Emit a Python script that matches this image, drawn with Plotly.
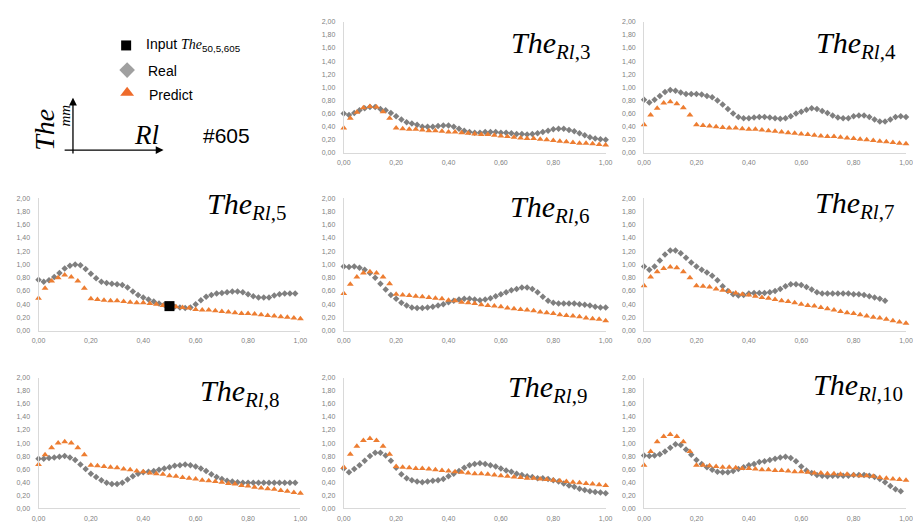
import plotly.graph_objects as go

# x positions of the two series (Rl, normalised)
pred_x = [0.000, 0.025, 0.050, 0.075, 0.100, 0.125, 0.150, 0.175, 0.200, 0.225,
          0.250, 0.275, 0.300, 0.325, 0.350, 0.375, 0.400, 0.425, 0.450, 0.475,
          0.500, 0.525, 0.550, 0.575, 0.600, 0.625, 0.650, 0.675, 0.700, 0.725,
          0.750, 0.775, 0.800, 0.825, 0.850, 0.875, 0.900, 0.925, 0.950, 0.975, 1.000]
real_x = [0.00, 0.02, 0.04, 0.06, 0.08, 0.10, 0.12, 0.14, 0.16, 0.18,
          0.20, 0.22, 0.24, 0.26, 0.28, 0.30, 0.32, 0.34, 0.36, 0.38,
          0.40, 0.42, 0.44, 0.46, 0.48, 0.50, 0.52, 0.54, 0.56, 0.58,
          0.60, 0.62, 0.64, 0.66, 0.68, 0.70, 0.72, 0.74, 0.76, 0.78,
          0.80, 0.82, 0.84, 0.86, 0.88, 0.90, 0.92, 0.94, 0.96, 0.98, 1.00]

# Real (measured) thickness, mm
real_rl3 = [0.60, 0.58, 0.61, 0.65, 0.68, 0.70, 0.70, 0.67, 0.65, 0.61,
            0.56, 0.51, 0.47, 0.45, 0.43, 0.40, 0.40, 0.40, 0.41, 0.42,
            0.42, 0.40, 0.37, 0.34, 0.32, 0.31, 0.31, 0.32, 0.32, 0.32,
            0.31, 0.31, 0.30, 0.29, 0.29, 0.28, 0.29, 0.30, 0.32, 0.34,
            0.36, 0.37, 0.37, 0.35, 0.33, 0.30, 0.27, 0.24, 0.22, 0.21, 0.20]
real_rl4 = [0.81, 0.77, 0.81, 0.87, 0.93, 0.96, 0.95, 0.92, 0.90, 0.90,
            0.90, 0.89, 0.87, 0.85, 0.80, 0.74, 0.67, 0.60, 0.55, 0.53,
            0.53, 0.54, 0.55, 0.55, 0.54, 0.53, 0.52, 0.53, 0.56, 0.60,
            0.63, 0.66, 0.68, 0.67, 0.64, 0.61, 0.57, 0.54, 0.53, 0.53,
            0.56, 0.57, 0.57, 0.55, 0.51, 0.48, 0.48, 0.51, 0.55, 0.56, 0.55]
real_rl5 = [0.77, 0.74, 0.76, 0.81, 0.87, 0.94, 0.98, 1.00, 0.99, 0.93,
            0.86, 0.79, 0.74, 0.72, 0.71, 0.70, 0.69, 0.65, 0.59, 0.54,
            0.50, 0.47, 0.44, 0.41, 0.39, 0.37, 0.36, 0.35, 0.34, 0.35,
            0.40, 0.46, 0.51, 0.54, 0.56, 0.57, 0.58, 0.59, 0.59, 0.58,
            0.55, 0.52, 0.50, 0.50, 0.50, 0.53, 0.55, 0.56, 0.56, 0.56]
real_rl6 = [0.97, 0.96, 0.97, 0.95, 0.92, 0.87, 0.80, 0.71, 0.62, 0.54,
            0.48, 0.42, 0.38, 0.35, 0.34, 0.34, 0.35, 0.36, 0.38, 0.40,
            0.43, 0.45, 0.47, 0.48, 0.48, 0.47, 0.46, 0.47, 0.49, 0.52,
            0.55, 0.58, 0.61, 0.63, 0.65, 0.65, 0.63, 0.58, 0.51, 0.45,
            0.42, 0.41, 0.41, 0.41, 0.41, 0.40, 0.39, 0.38, 0.36, 0.35, 0.35]
real_rl7 = [0.97, 0.92, 0.97, 1.06, 1.15, 1.21, 1.21, 1.17, 1.10, 1.03,
            0.97, 0.92, 0.88, 0.83, 0.76, 0.67, 0.60, 0.55, 0.53, 0.54,
            0.56, 0.57, 0.57, 0.57, 0.58, 0.60, 0.63, 0.67, 0.70, 0.70,
            0.69, 0.66, 0.62, 0.58, 0.56, 0.56, 0.56, 0.56, 0.56, 0.56,
            0.55, 0.55, 0.54, 0.52, 0.50, 0.48, 0.45]
real_rl8 = [0.76, 0.76, 0.77, 0.78, 0.79, 0.80, 0.78, 0.74, 0.67, 0.60,
            0.53, 0.48, 0.43, 0.39, 0.37, 0.37, 0.39, 0.44, 0.49, 0.53,
            0.55, 0.56, 0.57, 0.59, 0.61, 0.63, 0.65, 0.66, 0.67, 0.66,
            0.64, 0.61, 0.57, 0.52, 0.48, 0.45, 0.42, 0.41, 0.40, 0.39,
            0.39, 0.39, 0.39, 0.39, 0.39, 0.39, 0.39, 0.39, 0.39, 0.39]
real_rl9 = [0.61, 0.55, 0.60, 0.66, 0.73, 0.80, 0.85, 0.85, 0.81, 0.73,
            0.62, 0.52, 0.46, 0.43, 0.41, 0.40, 0.41, 0.42, 0.43, 0.45,
            0.49, 0.53, 0.57, 0.62, 0.66, 0.68, 0.69, 0.68, 0.66, 0.64,
            0.61, 0.58, 0.56, 0.53, 0.51, 0.49, 0.48, 0.46, 0.46, 0.45,
            0.43, 0.41, 0.38, 0.35, 0.33, 0.30, 0.28, 0.26, 0.25, 0.24, 0.23]
real_rl10 = [0.81, 0.80, 0.81, 0.83, 0.87, 0.93, 0.98, 0.97, 0.90, 0.82,
             0.74, 0.68, 0.63, 0.59, 0.56, 0.55, 0.55, 0.57, 0.60, 0.63,
             0.66, 0.68, 0.71, 0.72, 0.74, 0.76, 0.78, 0.79, 0.77, 0.72,
             0.64, 0.58, 0.54, 0.51, 0.50, 0.49, 0.50, 0.50, 0.50, 0.50,
             0.51, 0.51, 0.51, 0.50, 0.48, 0.45, 0.40, 0.34, 0.29, 0.26]

# Predicted thickness, mm
pred_rl3 = [0.38, 0.53, 0.62, 0.69, 0.71, 0.70, 0.63, 0.53, 0.38, 0.37,
            0.36, 0.36, 0.35, 0.34, 0.34, 0.33, 0.32, 0.32, 0.31, 0.30,
            0.29, 0.28, 0.28, 0.27, 0.26, 0.25, 0.24, 0.23, 0.22, 0.22,
            0.21, 0.20, 0.19, 0.18, 0.17, 0.16, 0.15, 0.15, 0.14, 0.13, 0.12]
pred_rl4 = [0.43, 0.58, 0.68, 0.76, 0.78, 0.75, 0.69, 0.58, 0.43, 0.42,
            0.41, 0.40, 0.39, 0.38, 0.38, 0.37, 0.36, 0.36, 0.35, 0.34,
            0.33, 0.32, 0.31, 0.30, 0.29, 0.28, 0.27, 0.26, 0.25, 0.25,
            0.24, 0.23, 0.22, 0.21, 0.20, 0.19, 0.18, 0.17, 0.16, 0.15, 0.14]
pred_rl5 = [0.49, 0.64, 0.75, 0.80, 0.84, 0.81, 0.75, 0.64, 0.48, 0.47,
            0.46, 0.45, 0.45, 0.44, 0.43, 0.42, 0.42, 0.41, 0.40, 0.38,
            0.37, 0.36, 0.35, 0.34, 0.32, 0.31, 0.31, 0.30, 0.29, 0.28,
            0.27, 0.26, 0.26, 0.25, 0.24, 0.23, 0.22, 0.21, 0.20, 0.19, 0.18]
pred_rl6 = [0.56, 0.70, 0.81, 0.87, 0.89, 0.87, 0.81, 0.71, 0.55, 0.54,
            0.53, 0.52, 0.51, 0.50, 0.49, 0.48, 0.46, 0.45, 0.43, 0.42,
            0.41, 0.39, 0.38, 0.37, 0.36, 0.34, 0.33, 0.32, 0.31, 0.30,
            0.28, 0.27, 0.26, 0.24, 0.23, 0.22, 0.21, 0.19, 0.18, 0.17, 0.15]
pred_rl7 = [0.68, 0.81, 0.89, 0.94, 0.96, 0.95, 0.89, 0.80, 0.68, 0.67,
            0.66, 0.63, 0.61, 0.59, 0.57, 0.55, 0.54, 0.52, 0.50, 0.49,
            0.47, 0.45, 0.44, 0.42, 0.40, 0.38, 0.37, 0.35, 0.33, 0.31,
            0.29, 0.27, 0.26, 0.24, 0.22, 0.20, 0.19, 0.17, 0.15, 0.13, 0.11]
pred_rl8 = [0.67, 0.82, 0.93, 1.00, 1.02, 1.00, 0.93, 0.82, 0.66, 0.65,
            0.64, 0.63, 0.62, 0.60, 0.59, 0.57, 0.56, 0.54, 0.53, 0.52,
            0.50, 0.49, 0.47, 0.46, 0.45, 0.43, 0.42, 0.41, 0.40, 0.38,
            0.37, 0.35, 0.34, 0.32, 0.31, 0.30, 0.29, 0.27, 0.26, 0.24, 0.23]
pred_rl9 = [0.63, 0.83, 0.95, 1.04, 1.07, 1.04, 0.95, 0.83, 0.64, 0.63,
            0.62, 0.61, 0.61, 0.60, 0.59, 0.58, 0.57, 0.56, 0.55, 0.54,
            0.53, 0.53, 0.52, 0.51, 0.50, 0.49, 0.48, 0.47, 0.46, 0.46,
            0.45, 0.44, 0.43, 0.42, 0.41, 0.40, 0.39, 0.38, 0.37, 0.36, 0.35]
pred_rl10 = [0.66, 0.87, 1.02, 1.10, 1.13, 1.10, 1.02, 0.87, 0.66, 0.66,
             0.65, 0.64, 0.63, 0.63, 0.62, 0.61, 0.61, 0.60, 0.59, 0.59,
             0.58, 0.58, 0.57, 0.56, 0.56, 0.55, 0.54, 0.54, 0.53, 0.53,
             0.52, 0.52, 0.51, 0.50, 0.50, 0.49, 0.47, 0.46, 0.45, 0.44, 0.43]

# the one input point (The_50,5,605) sits in the Rl,5 panel
input_x = [0.50]
input_y = [0.37]

W, H = 913, 525
GRAY = '#7f7f7f'
ORANGE = '#ED7D31'
SERIF = 'Liberation Serif'
SANS = 'Liberation Sans'

# panel boxes in pixels: (left, right), (top, bottom)
cols = [(32, 298), (342, 608), (647, 913)]
rows = [(18, 151), (197, 331), (379, 511)]

panels = [
    # label, col, row, real, pred, title left px, title mid px
    ('3', 1, 0, real_rl3, pred_rl3, 510, 42),
    ('4', 2, 0, real_rl4, pred_rl4, 820, 42),
    ('5', 0, 1, real_rl5, pred_rl5, 201, 205),
    ('6', 1, 1, real_rl6, pred_rl6, 509, 208),
    ('7', 2, 1, real_rl7, pred_rl7, 819, 204),
    ('8', 0, 2, real_rl8, pred_rl8, 194, 394),
    ('9', 1, 2, real_rl9, pred_rl9, 507, 390),
    ('10', 2, 2, real_rl10, pred_rl10, 817, 388),
]

fig = go.Figure()
layout = dict(
    width=W, height=H, autosize=False,
    margin=dict(l=0, r=0, t=0, b=0),
    paper_bgcolor='white', plot_bgcolor='rgba(0,0,0,0)',
    showlegend=False, separators=',.',
    font=dict(family=SANS, color='#000000'),
)
annotations = []

for i, (lab, c, r, real, pred, tx, ty) in enumerate(panels):
    n = '' if i == 0 else str(i + 1)
    xl, xr = cols[c]
    yt, yb = rows[r]
    ax_common = dict(showgrid=False, zeroline=False, showline=True,
                     linecolor='#d9d9d9', linewidth=1, ticks='',
                     tickfont=dict(size=7, color=GRAY, family=SANS),
                     tickformat='.2f', fixedrange=True)
    layout['xaxis' + n] = dict(ax_common, domain=[xl / W, xr / W], range=[0, 1],
                               tick0=0, dtick=0.2, anchor='y' + n,
                               ticklabelstandoff=3)
    layout['yaxis' + n] = dict(ax_common, domain=[1 - yb / H, 1 - yt / H], range=[0, 2],
                               tick0=0, dtick=0.2, anchor='x' + n,
                               ticklabelstandoff=6)

    fig.add_trace(go.Scatter(x=real_x[:len(real)], y=real, mode='markers',
                             xaxis='x' + n, yaxis='y' + n, cliponaxis=False,
                             marker=dict(symbol='diamond', size=5, color=GRAY)))
    fig.add_trace(go.Scatter(x=pred_x, y=pred, mode='markers',
                             xaxis='x' + n, yaxis='y' + n, cliponaxis=False,
                             marker=dict(symbol='triangle-up', size=6, color=ORANGE)))
    if lab == '5':
        fig.add_trace(go.Scatter(x=input_x, y=input_y, mode='markers',
                                 xaxis='x' + n, yaxis='y' + n, cliponaxis=False,
                                 marker=dict(symbol='square', size=10, color='black')))

    annotations.append(dict(
        text='<i>The</i><sub><i>Rl</i>,%s</sub>' % lab,
        x=tx, y=ty, xref='x9', yref='y9', xanchor='left', yanchor='middle',
        showarrow=False, font=dict(family=SERIF, size=30, color='black')))

# hidden pixel axis over the whole page for the key and the axis sketch
layout['xaxis9'] = dict(domain=[0, 1], range=[0, W], visible=False, anchor='y9', fixedrange=True)
layout['yaxis9'] = dict(domain=[0, 1], range=[H, 0], visible=False, anchor='x9', fixedrange=True)

fig.add_trace(go.Scatter(x=[121], y=[42], mode='markers', xaxis='x9', yaxis='y9',
                         marker=dict(symbol='square', size=10, color='black')))
fig.add_trace(go.Scatter(x=[122], y=[67], mode='markers', xaxis='x9', yaxis='y9',
                         marker=dict(symbol='diamond', size=12, color='#a0a0a0')))
fig.add_trace(go.Scatter(x=[122], y=[90], mode='markers', xaxis='x9', yaxis='y9',
                         marker=dict(symbol='triangle-up', size=12, color='#EE6B2B')))

key = dict(xref='x9', yref='y9', showarrow=False, xanchor='left', yanchor='middle')
annotations += [
    dict(key, x=139, y=42,
         text='Input <span style="font-family:Liberation Serif"><i>The</i></span><sub>50,5,605</sub>',
         font=dict(family=SANS, size=14, color='black')),
    dict(key, x=141, y=68, text='Real', font=dict(family=SANS, size=14, color='black')),
    dict(key, x=142, y=92, text='Predict', font=dict(family=SANS, size=14, color='black')),
    dict(key, x=197, y=133, text='#605', font=dict(family=SANS, size=21, color='black')),
    dict(key, x=127, y=133, text='<i>Rl</i>', font=dict(family=SERIF, size=27, color='black')),
    dict(xref='x9', yref='y9', showarrow=False, x=38, y=127, textangle=-90,
         text='<i>The</i>', font=dict(family=SERIF, size=28, color='black')),
    dict(xref='x9', yref='y9', showarrow=False, x=59, y=113, textangle=-90,
         text='<i>mm</i>', font=dict(family=SERIF, size=15, color='black')),
    # axis sketch arrows
    dict(xref='x9', yref='y9', axref='x9', ayref='y9', x=67, y=95, ax=67, ay=153,
         text='', showarrow=True, arrowhead=2, arrowsize=1.2, arrowwidth=1.3, arrowcolor='black'),
    dict(xref='x9', yref='y9', axref='x9', ayref='y9', x=159, y=148, ax=57, ay=148,
         text='', showarrow=True, arrowhead=2, arrowsize=1.2, arrowwidth=1.3, arrowcolor='black'),
]
layout['annotations'] = annotations
fig.update_layout(**layout)

fig.write_html("out.html", config={'displayModeBar': False},
               post_script="document.body.style.margin='0px';")
